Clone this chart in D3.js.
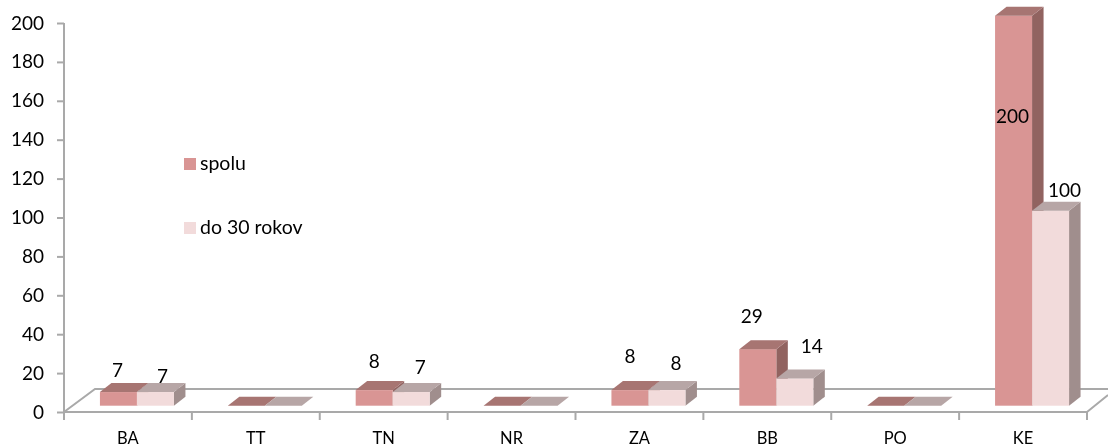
<!DOCTYPE html>
<html><head><meta charset="utf-8">
<script src="https://cdn.jsdelivr.net/npm/d3@7"></script>
<style>html,body{margin:0;padding:0;background:#fff;overflow:hidden}svg{display:block}text{font-family:Lato,"Open Sans",sans-serif;fill:#000}</style>
</head><body><svg id="c" width="1108" height="448"></svg>
<script>
const categories = ["BA","TT","TN","NR","ZA","BB","PO","KE"];
const spolu = [7,0,8,0,8,29,0,200];
const do30 = [7,0,7,0,8,14,0,100];
const seriesNames = ["spolu","do 30 rokov"];
const yTicks = [0,20,40,60,80,100,120,140,160,180,200];
// label nudges relative to the top of each bar [dx, dy], null = no label
const spoluLabelOffset = [[-1,-22],null,[0,-29],null,[0,-34],[-6,-33],null,[-1,101]];
const do30LabelOffset = [[7,-16],null,[9,-25],null,[9,-27],[17,-32],null,[14,-20]];

const svg = d3.select("#c");
const defs = svg.append("defs");
defs.append("filter").attr("id","soft").append("feGaussianBlur").attr("stdDeviation",0.45);
const g = svg.append("g").attr("filter","url(#soft)");

const gray = "#a9a9a9";
const x = d3.scaleBand().domain(categories).range([64,1087]);
const y = d3.scaleLinear().domain([0,200]).range([412,23]);
const base = 405.7, perUnit = 1.95, barW = 37, dX = 11.5, dY = 9, barOff = x.bandwidth()/2 + 9 - barW;
const h = v => v*perUnit;

const wallY = 389;
g.append("path").attr("fill","none").attr("stroke",gray).attr("stroke-width",2)
  .attr("d",`M64,412L95,${wallY}L1108,${wallY}M1087,412L1108,395`);

const yAxis = d3.axisLeft(y).tickValues(yTicks).tickSize(7).tickPadding(13).tickFormat(d3.format("d"));
const ya = g.append("g").attr("transform","translate(64,0)").call(yAxis);
const xAxis = d3.axisBottom(x).tickSize(0).tickPadding(20);
const xa = g.append("g").attr("transform","translate(0,412)").call(xAxis);
[ya,xa].forEach(a=>{
  a.selectAll("path,line").attr("stroke",gray).attr("stroke-width",2);
  a.selectAll("text").attr("font-family","Lato");
});
ya.selectAll("text").attr("font-size",19);
xa.selectAll("text").attr("font-size",16.5);
xa.select("path").attr("d","M64,0H1087");
ya.select("path").attr("d","M0,412V23");
xa.selectAll(".sep").data(d3.range(categories.length+1)).enter().append("line").attr("class","sep")
  .attr("x1",i=>64+i*x.bandwidth()).attr("x2",i=>64+i*x.bandwidth()).attr("y1",0).attr("y2",8)
  .attr("stroke",gray).attr("stroke-width",2);

const styles = [
 {front:"#d99594",top:"#a77472",side:"#916361"},
 {front:"#f2dbdb",top:"#b7a6a6",side:"#a08e8d"}
];
const seriesData = [spolu,do30];
const bars = g.append("g");
categories.forEach((c,i)=>{
  seriesData.forEach((vals,s)=>{
    const x0 = x(c)+barOff+s*barW, v=vals[i], t=base-h(v), st=styles[s];
    const b = bars.append("g");
    if(v>0){
      b.append("path").attr("fill",st.side).attr("d",`M${x0+barW},${t}l${dX},${-dY}V${base-dY}l${-dX},${dY}Z`);
      b.append("rect").attr("x",x0).attr("y",t).attr("width",barW).attr("height",h(v)).attr("fill",st.front);
    }
    b.append("path").attr("fill",st.top).attr("d",`M${x0},${t}l${dX},${-dY}h${barW}l${-dX},${dY}Z`);
  });
});
const labels = g.append("g").attr("font-size",19).attr("text-anchor","middle");
[[spolu,spoluLabelOffset,0],[do30,do30LabelOffset,1]].forEach(([vals,offs,s])=>{
  categories.forEach((c,i)=>{
    const o = offs[i]; if(!o) return;
    const cx = x(c)+barOff+s*barW+barW/2+o[0];
    const cy = base-h(vals[i])+o[1];
    labels.append("text").attr("x",cx).attr("y",cy).attr("dy","0.35em").text(vals[i]);
  });
});
const legendY = d3.scalePoint().domain(seriesNames).range([164,228]);
seriesNames.forEach((n,s)=>{
  const ly = legendY(n);
  g.append("rect").attr("x",184).attr("y",ly-6).attr("width",12).attr("height",12).attr("fill",styles[s].front);
  g.append("text").attr("x",200).attr("y",ly).attr("dy","0.33em").attr("font-size",19.5).text(n);
});
</script></body></html>
